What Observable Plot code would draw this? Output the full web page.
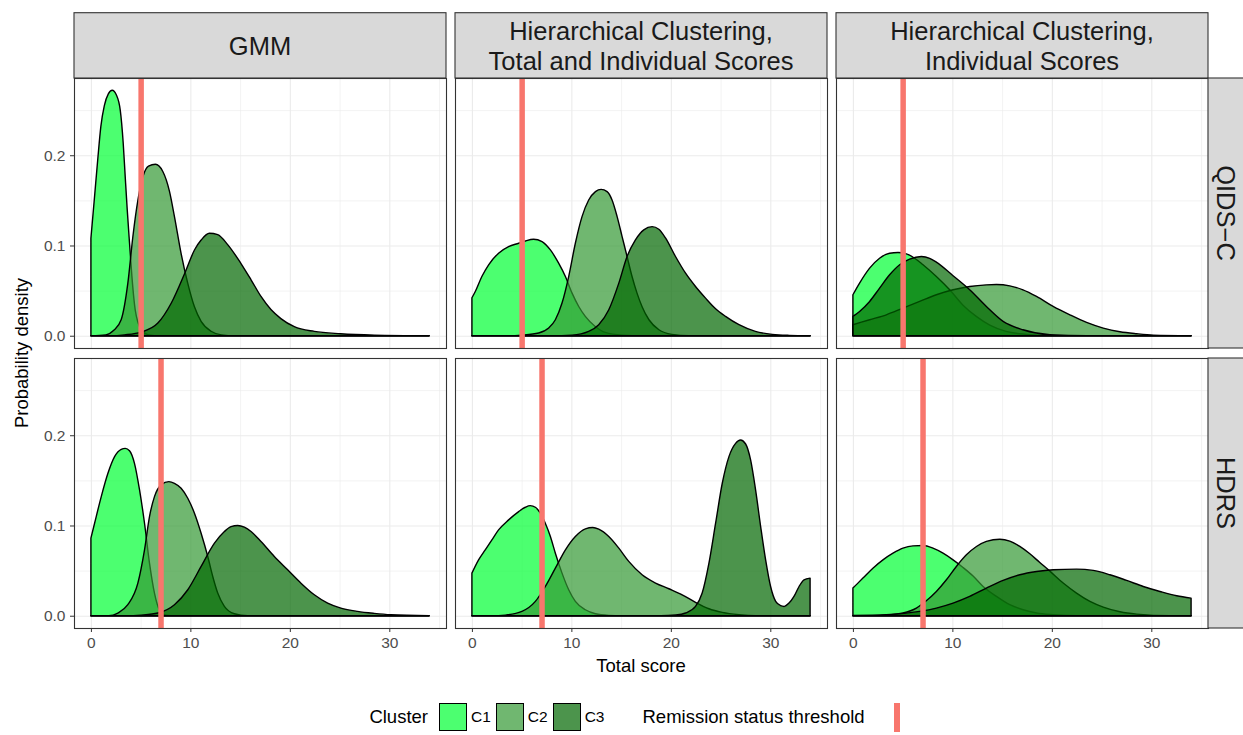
<!DOCTYPE html>
<html>
<head>
<meta charset="utf-8">
<script src="https://cdn.jsdelivr.net/npm/d3@7"></script>
<script src="https://cdn.jsdelivr.net/npm/@observablehq/plot@0.6"></script>
<style>
  body { margin: 0; background: #fff; font-family: "Liberation Sans", Arial, Helvetica, sans-serif; }
  #chart svg { display: block; }
  #legend { display: flex; align-items: center; justify-content: center; margin-left: 73px; width: 1135px; height: 54px; color: #000; }
  #legend .title { font-size: 18.5px; }
  #legend .key { width: 28px; height: 28px; box-sizing: border-box; border: 1.2px solid #000; }
  #legend .lab { font-size: 15.5px; }
  #legend .rule { width: 29px; height: 29px; position: relative; }
  #legend .rule::after { content: ""; position: absolute; left: 11.75px; top: 0; width: 5.5px; height: 29px; background: #F8766D; }
</style>
</head>
<body>
<div id="chart"></div>
<div id="legend"></div>
<script>
// Facet categories
const methods = ["GMM", "Hierarchical Clustering,\nTotal and Individual Scores", "Hierarchical Clustering,\nIndividual Scores"];
const scaleNames = ["QIDS\u2212C", "HDRS"];
const clusters = ["C1", "C2", "C3"];
const clusterColors = ["#00FF33", "#339933", "#006600"];
// Remission thresholds per rating scale (QIDS-C, HDRS)
const thresholds = [5, 7];

// Axis ticks
const majorX = [0, 10, 20, 30];
const minorX = [5, 15, 25, 35];
const majorY = [0, 0.1, 0.2];
const minorY = [0.05, 0.15, 0.25];

// Estimated densities, [total score, density] — GMM, QIDS-C
const gmmQidsC1 = [[0,0.108],[0.35,0.152],[0.7,0.197],[1.0,0.232],[1.35,0.255],[1.75,0.268],[2.14,0.272],[2.55,0.267],[2.95,0.25],[3.25,0.213],[3.45,0.176],[3.65,0.14],[3.88,0.103],[4.12,0.066],[4.45,0.029],[5.05,0.007],[5.8,0.001],[7,0],[34,0]];
const gmmQidsC2 = [[0,0],[1.5,0.001],[2.3,0.006],[3.05,0.018],[3.71,0.058],[4.22,0.11],[4.72,0.15],[5.22,0.176],[5.79,0.188],[6.49,0.19],[7.23,0.182],[7.9,0.16],[8.4,0.132],[9.07,0.091],[9.74,0.058],[10.41,0.032],[11.08,0.016],[12.08,0.005],[13.1,0.001],[14.5,0],[34,0]];
const gmmQidsC3 = [[0,0],[2,0],[3.38,0.001],[5.05,0.004],[6.73,0.014],[8.07,0.036],[9.5,0.071],[10.41,0.095],[11.08,0.106],[11.91,0.1136],[12.75,0.112],[13.75,0.101],[15.09,0.08],[16.1,0.062],[17.1,0.0435],[18.1,0.029],[19.1,0.019],[20.45,0.01],[22.46,0.0048],[25.1,0.0022],[28.5,0.0007],[34,0]];

// Hierarchical clustering (total and individual scores), QIDS-C
const hcTiQidsC1 = [[0,0.042],[0.34,0.049],[1.0,0.0656],[1.68,0.0786],[2.68,0.0915],[3.69,0.0988],[4.7,0.1025],[5.37,0.105],[6.2,0.1069],[7.05,0.1044],[7.89,0.0951],[8.72,0.0804],[9.4,0.0656],[10.07,0.0472],[10.74,0.0324],[11.4,0.0214],[12.4,0.0103],[13.4,0.0037],[15.1,0.0007],[17.1,0],[34,0]];
const hcTiQidsC2 = [[0,0],[3.5,0],[5.03,0.0007],[6.71,0.003],[7.72,0.0085],[8.39,0.0177],[9.06,0.0362],[9.73,0.0656],[10.4,0.1025],[11.07,0.132],[11.74,0.1504],[12.42,0.1597],[12.99,0.1622],[13.59,0.1597],[14.09,0.1504],[14.6,0.132],[15.1,0.1099],[15.6,0.0878],[16.1,0.0656],[16.6,0.0472],[17.1,0.0324],[17.8,0.0177],[18.8,0.0066],[20.1,0.0015],[21.8,0],[34,0]];
const hcTiQidsC3 = [[0,0],[8,0],[10.07,0.0007],[11.74,0.0048],[12.75,0.0122],[13.76,0.0288],[14.77,0.0583],[15.6,0.0878],[16.44,0.1062],[17.28,0.1173],[18.12,0.1209],[18.79,0.118],[19.46,0.1084],[20.47,0.0878],[21.48,0.0693],[22.48,0.0546],[23.49,0.0417],[24.5,0.0299],[25.5,0.0214],[26.85,0.0122],[28.5,0.0048],[30.2,0.0015],[31.9,0.0004],[34,0]];

// Hierarchical clustering (individual scores), QIDS-C
const hcIQidsC1 = [[0,0.0454],[0.67,0.0583],[1.68,0.0749],[2.68,0.0859],[3.69,0.0914],[4.53,0.0922],[5.37,0.0907],[6.21,0.0859],[7.05,0.0786],[8.39,0.0656],[9.73,0.0509],[11.07,0.0339],[12.4,0.0214],[13.76,0.0118],[15.4,0.0048],[17.45,0.0015],[20.1,0],[34,0]];
const hcIQidsC2 = [[0,0.0122],[1.68,0.0177],[3.36,0.0232],[5.03,0.0306],[6.71,0.038],[8.39,0.0454],[10.07,0.0509],[11.74,0.0546],[13.42,0.0564],[14.43,0.0567],[15.77,0.0553],[17.1,0.0509],[18.46,0.0436],[20.13,0.0325],[21.81,0.0232],[23.49,0.0148],[25.17,0.0085],[26.85,0.0044],[28.52,0.0022],[30.2,0.0007],[34,0]];
const hcIQidsC3 = [[0,0.0214],[0.67,0.0269],[1.68,0.038],[2.68,0.0527],[3.69,0.0675],[4.7,0.0786],[5.7,0.0848],[6.88,0.0878],[7.72,0.0858],[8.39,0.0815],[10.07,0.0665],[11.74,0.0509],[13.42,0.0324],[15.1,0.0159],[17.1,0.0066],[19.8,0.0011],[23.5,0],[34,0]];

// GMM, HDRS
const gmmHdrsC1 = [[0,0.0859],[0.37,0.1025],[1.04,0.132],[1.71,0.1578],[2.38,0.1763],[3.05,0.1844],[3.45,0.1855],[3.88,0.1829],[4.38,0.1689],[4.89,0.1394],[5.39,0.1025],[5.89,0.0583],[6.39,0.0251],[6.89,0.0066],[7.56,0.0007],[8.4,0],[34,0]];
const gmmHdrsC2 = [[0,0],[1.8,0],[2.71,0.003],[3.71,0.0122],[4.72,0.0361],[5.39,0.073],[5.89,0.1099],[6.39,0.132],[7.06,0.145],[7.83,0.1486],[8.4,0.1468],[9.07,0.1413],[9.74,0.1302],[10.41,0.1136],[11.08,0.0914],[11.75,0.0656],[12.25,0.0435],[12.75,0.0251],[13.42,0.0103],[14.42,0.0022],[15.76,0],[34,0]];
const gmmHdrsC3 = [[0,0],[3.5,0],[5.05,0.0007],[6.73,0.003],[8.4,0.0122],[9.74,0.0288],[11.08,0.0546],[12.42,0.0804],[13.42,0.0933],[14.09,0.0988],[14.76,0.1],[15.43,0.0981],[16.1,0.0933],[17.1,0.0822],[18.44,0.0656],[19.78,0.0509],[21.12,0.0361],[22.46,0.0232],[23.8,0.014],[25.13,0.0085],[26.8,0.0048],[28.48,0.0026],[30.15,0.0011],[34,0]];

// Hierarchical clustering (total and individual scores), HDRS
const hcTiHdrsC1 = [[0,0.0472],[0.67,0.0619],[1.34,0.073],[2.01,0.0841],[2.68,0.0951],[3.69,0.1062],[4.7,0.1154],[5.37,0.1202],[5.87,0.122],[6.38,0.1202],[6.88,0.1136],[7.38,0.1025],[7.89,0.0878],[8.39,0.0693],[9.06,0.0472],[9.73,0.0288],[10.4,0.0159],[11.41,0.0066],[12.42,0.0022],[13.76,0.0004],[15.1,0],[34,0]];
const hcTiHdrsC2 = [[0,0],[2,0],[3.36,0.0007],[5.03,0.0048],[6.38,0.0159],[7.38,0.0324],[8.39,0.0527],[9.4,0.073],[10.4,0.0878],[11.41,0.0963],[12.15,0.0977],[12.75,0.0959],[13.76,0.0878],[14.77,0.0749],[15.77,0.0602],[17.11,0.0454],[18.46,0.0362],[19.8,0.0299],[21.14,0.0232],[22.48,0.0148],[23.83,0.0077],[25.17,0.0037],[26.85,0.0011],[28.52,0],[34,0]];
const hcTiHdrsC3 = [[0,0],[19,0],[20.5,0.0008],[21.48,0.003],[22.48,0.0103],[23.15,0.0251],[23.83,0.0583],[24.5,0.1025],[25.17,0.1468],[25.84,0.1763],[26.51,0.191],[27.01,0.1947],[27.52,0.1903],[28.02,0.1726],[28.52,0.1394],[29.03,0.0988],[29.53,0.0619],[30.03,0.0324],[30.54,0.0159],[31.04,0.0111],[31.38,0.0103],[31.88,0.014],[32.38,0.0214],[32.89,0.0324],[33.39,0.0398],[34,0.0417]];

// Hierarchical clustering (individual scores), HDRS
const hcIHdrsC1 = [[0,0.0306],[1.01,0.0417],[2.01,0.0527],[3.02,0.0619],[4.03,0.0693],[5.03,0.0749],[6.04,0.0774],[7.05,0.0778],[8.05,0.0749],[9.06,0.0693],[10.07,0.0619],[11.07,0.0535],[12.08,0.044],[13.09,0.0324],[14.43,0.0214],[15.77,0.0122],[17.11,0.0066],[18.46,0.003],[20.13,0.0011],[22.5,0],[34,0]];
const hcIHdrsC2 = [[0,0],[2,0],[3.36,0.0007],[5.03,0.003],[6.38,0.0085],[7.38,0.0166],[8.39,0.0269],[9.4,0.0398],[10.4,0.0546],[11.41,0.0675],[12.42,0.0767],[13.42,0.0823],[14.77,0.0848],[15.77,0.0827],[16.78,0.0768],[17.79,0.0686],[18.79,0.059],[19.8,0.0494],[21.14,0.0362],[22.48,0.0251],[23.83,0.0159],[25.17,0.0096],[26.85,0.0044],[28.52,0.0018],[31.9,0],[34,0]];
const hcIHdrsC3 = [[0,0.0003],[3.36,0.0011],[6.71,0.0048],[8.39,0.0085],[10.07,0.014],[11.74,0.0214],[13.42,0.0306],[15.1,0.0391],[16.78,0.0454],[18.46,0.049],[20.13,0.0509],[22.48,0.0516],[24.16,0.0502],[25.84,0.0454],[27.52,0.0391],[29.19,0.0324],[30.87,0.0269],[32.55,0.0221],[34,0.0195]];

// Panel layout of the curve arrays: rows = scales, columns = methods, one entry per cluster
const curveTable = [
  [[gmmQidsC1, gmmQidsC2, gmmQidsC3], [hcTiQidsC1, hcTiQidsC2, hcTiQidsC3], [hcIQidsC1, hcIQidsC2, hcIQidsC3]],
  [[gmmHdrsC1, gmmHdrsC2, gmmHdrsC3], [hcTiHdrsC1, hcTiHdrsC2, hcTiHdrsC3], [hcIHdrsC1, hcIHdrsC2, hcIHdrsC3]]
];

const rows = [];
curveTable.forEach((perMethod, si) => perMethod.forEach((perCluster, mi) => perCluster.forEach((pts, ci) => {
  pts.forEach(([x, y]) => rows.push({scale: scaleNames[si], method: methods[mi], cluster: clusters[ci], x, y}));
})));

const ruleRows = [];
scaleNames.forEach((s, si) => methods.forEach(m => ruleRows.push({scale: s, method: m, t: thresholds[si]})));

const FONT = '"Liberation Sans", Arial, Helvetica, sans-serif';
const [xMin, xMax] = d3.extent(rows, d => d.x);
const yMax = d3.max(rows, d => d.y);
const xPad = 0.05 * (xMax - xMin);

const plot = Plot.plot({
  width: 1243,
  height: 690,
  marginTop: 77.3,
  marginRight: 34.7,
  marginBottom: 61.7,
  marginLeft: 73.3,
  style: {fontFamily: FONT, fontSize: "15.5px", background: "white", overflow: "visible"},
  x: {domain: [xMin - xPad, xMax + xPad]},
  y: {domain: [-0.05 * yMax, 1.05 * yMax]},
  fx: {domain: methods, paddingInner: 0.0249, paddingOuter: 0, axis: null, label: null},
  fy: {domain: scaleNames, paddingInner: 0.0357, paddingOuter: 0, axis: null, label: null},
  marks: [
    Plot.gridX(minorX, {stroke: "#EBEBEB", strokeOpacity: 1, strokeWidth: 0.6}),
    Plot.gridY(minorY, {stroke: "#EBEBEB", strokeOpacity: 1, strokeWidth: 0.6}),
    Plot.gridX(majorX, {stroke: "#EBEBEB", strokeOpacity: 1, strokeWidth: 1.1}),
    Plot.gridY(majorY, {stroke: "#EBEBEB", strokeOpacity: 1, strokeWidth: 1.1}),
    ...clusters.map((k, i) => Plot.areaY(rows.filter(d => d.cluster === k), {
      x: "x", y: "y", fx: "method", fy: "scale",
      fill: clusterColors[i], fillOpacity: 0.7,
      stroke: "black", strokeWidth: 1.4, curve: "monotone-x"
    })),
    Plot.ruleX(ruleRows, {x: "t", fx: "method", fy: "scale", stroke: "#F8766D", strokeWidth: 5.5}),
    Plot.axisX(majorX, {tickSize: 4, tickPadding: 4, label: null, color: "#4D4D4D", stroke: "#333333"}),
    Plot.axisY(majorY, {tickSize: 4, tickPadding: 5, label: null, tickFormat: d3.format(".1f"), color: "#4D4D4D", stroke: "#333333"}),
    Plot.frame({stroke: "#333333", strokeWidth: 1.1})
  ]
});

document.getElementById("chart").append(plot);

const svg = d3.select(plot);
// Tick labels at the theme's text size
svg.selectAll("[aria-label$='tick label']").attr("font-size", null).style("font-size", "15.5px")
  .selectAll("text").style("font-size", "15.5px");

// Facet strips and axis titles, placed from the facet scales
const fxS = plot.scale("fx");
const fyS = plot.scale("fy");
const g = svg.append("g").attr("font-family", FONT);
const stripH = 65.3, stripW = 36, lineGap = 30;
const top0 = fyS.apply(scaleNames[0]);
methods.forEach(m => {
  const x0 = fxS.apply(m), w = fxS.bandwidth;
  g.append("rect").attr("x", x0).attr("y", top0 - stripH).attr("width", w).attr("height", stripH)
    .attr("fill", "#D9D9D9").attr("stroke", "#333333").attr("stroke-width", 1.1);
  const lines = m.split("\n");
  const t = g.append("text").attr("text-anchor", "middle").attr("font-size", 25.5).attr("fill", "#1A1A1A");
  lines.forEach((ln, i) => t.append("tspan")
    .attr("x", x0 + w / 2)
    .attr("y", top0 - stripH / 2 + (i - (lines.length - 1) / 2) * lineGap)
    .attr("dy", "0.38em").text(ln));
});
const right0 = fxS.apply(methods[methods.length - 1]) + fxS.bandwidth;
scaleNames.forEach(s => {
  const y0 = fyS.apply(s), h = fyS.bandwidth;
  g.append("rect").attr("x", right0).attr("y", y0).attr("width", stripW).attr("height", h)
    .attr("fill", "#D9D9D9").attr("stroke", "#333333").attr("stroke-width", 1.1);
  g.append("text").attr("transform", `translate(${right0 + 18},${y0 + h / 2}) rotate(90)`)
    .attr("text-anchor", "middle").attr("dy", "0.35em").attr("font-size", 25.5).attr("fill", "#1A1A1A").text(s);
});
const left0 = fxS.apply(methods[0]);
const bottom0 = fyS.apply(scaleNames[scaleNames.length - 1]) + fyS.bandwidth;
g.append("text").attr("x", (left0 + right0) / 2).attr("y", bottom0 + 44)
  .attr("text-anchor", "middle").attr("font-size", 18.5).attr("fill", "#000").text("Total score");
g.append("text").attr("transform", `translate(28,${(top0 + bottom0) / 2}) rotate(-90)`)
  .attr("text-anchor", "middle").attr("font-size", 18.5).attr("fill", "#000").text("Probability density");

// Legend
const legend = d3.select("#legend");
legend.append("span").attr("class", "title").style("margin-right", "11px").text("Cluster");
clusters.forEach((k, i) => {
  const c = d3.color(clusterColors[i]); c.opacity = 0.7;
  legend.append("div").attr("class", "key").style("background", c.formatRgb());
  legend.append("span").attr("class", "lab")
    .style("margin", i < clusters.length - 1 ? "0 5px 0 4px" : "0 38px 0 4px").text(k);
});
legend.append("span").attr("class", "title").style("margin-right", "18px").text("Remission status threshold");
legend.append("div").attr("class", "rule");
</script>
</body>
</html>
